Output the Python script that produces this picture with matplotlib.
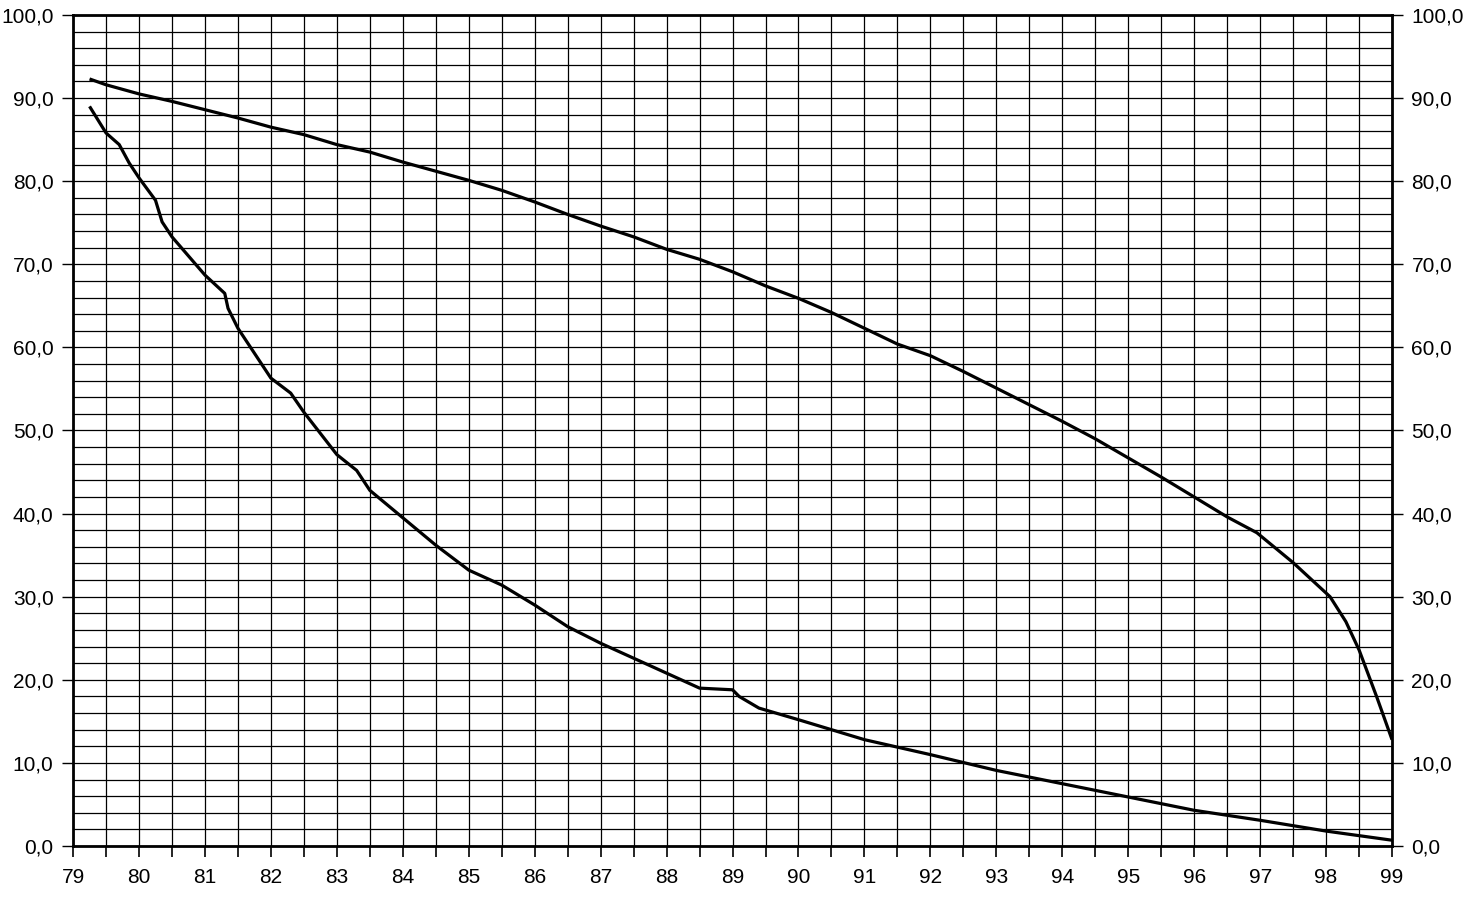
import matplotlib
matplotlib.use("Agg")
import matplotlib.pyplot as plt
import numpy as np
from matplotlib.ticker import MultipleLocator, FuncFormatter

upper_x = [79.25, 79.5, 80.0, 80.5, 81.0, 81.5, 82.0, 82.5, 83.0, 83.5, 84.0, 84.5, 85.0,
           85.5, 86.0, 86.5, 87.0, 87.5, 88.0, 88.5, 89.0, 89.5, 90.0, 90.5, 91.0, 91.5,
           92.0, 92.5, 93.0, 93.5, 94.0, 94.5, 95.0, 95.5, 96.0, 96.5, 96.95, 97.5, 98.06,
           98.3, 98.5, 98.77, 99.0]
upper_y = [92.3, 91.6, 90.5, 89.6, 88.6, 87.6, 86.5, 85.6, 84.4, 83.5, 82.3, 81.2, 80.1,
           78.9, 77.5, 76.0, 74.6, 73.3, 71.8, 70.6, 69.1, 67.4, 65.9, 64.2, 62.3, 60.4,
           59.0, 57.1, 55.1, 53.1, 51.1, 49.0, 46.7, 44.4, 42.0, 39.6, 37.7, 34.1, 30.0,
           27.0, 23.6, 17.9, 12.8]

lower_x = [79.25, 79.5, 79.7, 79.85, 80.0, 80.25, 80.35, 80.5, 81.0, 81.3, 81.35, 81.5,
           82.0, 82.3, 82.5, 83.0, 83.3, 83.5, 84.0, 84.5, 85.0, 85.5, 86.0, 86.5, 87.0,
           87.5, 88.0, 88.5, 89.0, 89.1, 89.4, 90.0, 91.0, 92.0, 93.0, 94.0, 95.0, 96.0,
           97.0, 98.0, 99.0]
lower_y = [89.0, 85.8, 84.4, 82.2, 80.4, 77.7, 75.1, 73.3, 68.7, 66.5, 64.7, 62.3,
           56.3, 54.5, 52.2, 47.1, 45.2, 42.8, 39.5, 36.2, 33.2, 31.4, 29.0, 26.4, 24.4,
           22.6, 20.8, 19.0, 18.8, 18.0, 16.6, 15.2, 12.8, 11.0, 9.1, 7.5, 5.9, 4.3,
           3.1, 1.8, 0.7]

x_ticks = list(range(79, 100))
y_ticks = list(range(0, 101, 10))

plt.rcParams['font.family'] = ['Liberation Sans', 'DejaVu Sans']

fig = plt.figure(figsize=(14.79, 9.01), dpi=100)
ax = fig.add_axes([0.0494, 0.061, 0.8918, 0.9224])

ax.set_xlim(79, 99)
ax.set_ylim(0, 100)

ax.xaxis.set_major_locator(MultipleLocator(1))
ax.xaxis.set_minor_locator(MultipleLocator(0.5))
ax.yaxis.set_major_locator(MultipleLocator(10))
ax.yaxis.set_minor_locator(MultipleLocator(2))
ax.set_xticks(x_ticks)
ax.set_yticks(y_ticks)

ax.grid(which='both', color='black', linewidth=0.9)
ax.set_axisbelow(True)

ax.plot(upper_x, upper_y, color='black', linewidth=2.3, solid_capstyle='butt')
ax.plot(lower_x, lower_y, color='black', linewidth=2.3, solid_capstyle='butt')

fmt = FuncFormatter(lambda v, p: f"{v:.1f}".replace('.', ','))
ax.yaxis.set_major_formatter(fmt)
ax.tick_params(axis='y', which='major', direction='out', length=8, width=1,
               labelsize=15, left=True, right=True, labelleft=True, labelright=True, pad=6)
ax.tick_params(axis='y', which='minor', length=0)
ax.tick_params(axis='x', which='both', direction='out', length=8, width=1.2,
               labelsize=15, pad=8)
ax.tick_params(axis='x', which='minor', length=8)

for side in ['left', 'right', 'bottom', 'top']:
    ax.spines[side].set_linewidth(2)
    ax.spines[side].set_color('black')

fig.savefig('out.png', dpi=100, facecolor='white')
